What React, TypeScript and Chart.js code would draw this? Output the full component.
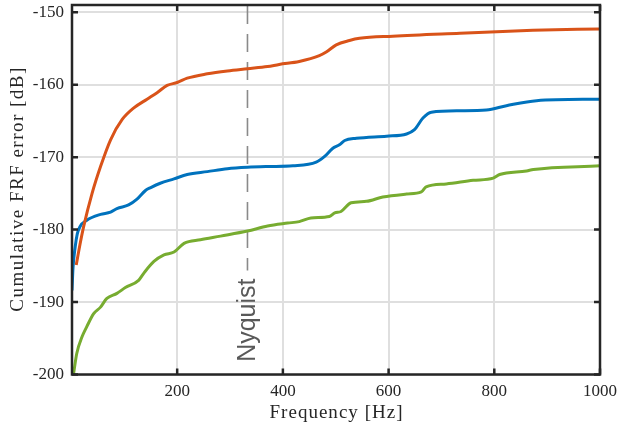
import React, { useEffect, useRef } from "react";
import { Chart, registerables } from "chart.js";

Chart.register(...registerables);

// ---- data ----
const blueFreq = [1, 3, 7, 11, 16, 29, 55, 74, 86, 108, 124, 140, 150, 168, 194, 219, 257, 295, 333, 371, 419, 463, 479, 494, 507, 517, 539, 596, 634, 649, 665, 681, 735, 785, 823, 880, 1000];
const blueErr = [-188.4, -185.2, -182.4, -180.6, -179.6, -178.7, -177.9, -177.6, -177.1, -176.6, -175.8, -174.6, -174.2, -173.6, -173.0, -172.4, -172.0, -171.6, -171.4, -171.3, -171.2, -170.7, -169.9, -168.8, -168.3, -167.7, -167.4, -167.1, -166.8, -166.2, -164.6, -163.8, -163.6, -163.5, -162.9, -162.2, -162.0];

const orangeFreq = [9, 16, 23, 39, 55, 74, 96, 118, 143, 162, 181, 200, 219, 257, 295, 333, 371, 393, 431, 469, 482, 501, 526, 545, 608, 735, 873, 1000];
const orangeErr = [-184.9, -182.1, -179.6, -175.0, -171.3, -167.6, -164.8, -163.2, -162.0, -161.1, -160.1, -159.7, -159.1, -158.5, -158.1, -157.8, -157.5, -157.2, -156.8, -156.0, -155.5, -154.5, -153.9, -153.6, -153.3, -152.9, -152.5, -152.3];

const greenFreq = [4, 10, 20, 29, 42, 55, 67, 86, 102, 127, 137, 156, 175, 194, 213, 244, 282, 333, 371, 409, 431, 453, 488, 498, 510, 529, 558, 589, 634, 662, 671, 709, 760, 798, 810, 861, 874, 1000];
const greenErr = [-199.9, -197.1, -194.8, -193.4, -191.6, -190.7, -189.5, -188.8, -188.0, -187.0, -186.0, -184.4, -183.5, -183.1, -181.9, -181.4, -180.9, -180.2, -179.5, -179.1, -178.9, -178.4, -178.2, -177.7, -177.5, -176.3, -176.1, -175.5, -175.1, -174.8, -174.1, -173.7, -173.2, -172.9, -172.4, -171.9, -171.7, -171.2];

const xTicks = [200, 400, 600, 800, 1000];
const yTicks = [-200, -190, -180, -170, -160, -150];
const nyquistHz = 333;
const nyquistLabel = "Nyquist";
const xTitle = "Frequency [Hz]";
const yTitle = "Cumulative FRF error [dB]";

// ---- styles ----
const AXIS_COLOR = "#262626";
const SERIF = "Liberation Serif";

function toPoints(xs: number[], ys: number[]) {
  return xs.map((x, i) => ({ x, y: ys[i] }));
}

function drawSpacedText(ctx: CanvasRenderingContext2D, text: string, cx: number, cy: number, target: number) {
  (ctx as any).letterSpacing = "0px";
  const w = ctx.measureText(text).width;
  const n = text.length;
  const sp = n > 1 ? Math.max(0, (target - w) / (n - 1)) : 0;
  (ctx as any).letterSpacing = sp + "px";
  ctx.textAlign = "left";
  ctx.fillText(text, cx - (w + (n - 1) * sp) / 2, cy);
  (ctx as any).letterSpacing = "0px";
}

const framePlugin = {
  id: "frame",
  beforeDatasetsDraw(chart: any) {
    const { ctx, chartArea, scales } = chart;
    const x = scales.x.getPixelForValue(nyquistHz);
    const yc = scales.y.getPixelForValue(-192.5);
    ctx.save();
    ctx.font = "25px 'Liberation Sans', Arial, sans-serif";
    const tw = ctx.measureText(nyquistLabel).width;
    ctx.strokeStyle = "#8a8a8a";
    ctx.lineWidth = 1.6;
    ctx.setLineDash([18, 10]);
    ctx.beginPath();
    ctx.moveTo(x, chartArea.top + 1);
    ctx.lineTo(x, yc - tw / 2 - 8);
    ctx.stroke();
    ctx.setLineDash([]);
    ctx.translate(x, yc);
    ctx.rotate(-Math.PI / 2);
    ctx.fillStyle = "#595959";
    ctx.textAlign = "center";
    ctx.textBaseline = "middle";
    ctx.fillText(nyquistLabel, 0, 1);
    ctx.restore();
  },
  afterDraw(chart: any) {
    const { ctx, chartArea, scales } = chart;
    const { left, right, top, bottom } = chartArea;
    ctx.save();
    ctx.strokeStyle = AXIS_COLOR;
    ctx.lineWidth = 2.5;
    ctx.strokeRect(left, top, right - left, bottom - top);
    const tl = 6;
    ctx.beginPath();
    xTicks.forEach((v) => {
      const px = scales.x.getPixelForValue(v);
      ctx.moveTo(px, bottom);
      ctx.lineTo(px, bottom - tl);
      ctx.moveTo(px, top);
      ctx.lineTo(px, top + tl);
    });
    yTicks.forEach((v) => {
      const py = scales.y.getPixelForValue(v);
      ctx.moveTo(left, py);
      ctx.lineTo(left + tl, py);
      ctx.moveTo(right, py);
      ctx.lineTo(right - tl, py);
    });
    ctx.stroke();

    // axis titles
    ctx.fillStyle = AXIS_COLOR;
    ctx.font = "19px '" + SERIF + "', serif";
    ctx.textBaseline = "alphabetic";
    drawSpacedText(ctx, xTitle, (left + right) / 2, 417.5, 133);
    ctx.translate(23, (top + bottom) / 2);
    ctx.rotate(-Math.PI / 2);
    drawSpacedText(ctx, yTitle, 0, 0, 244);
    ctx.restore();
  },
};

export default function App() {
  const ref = useRef<HTMLCanvasElement | null>(null);

  useEffect(() => {
    if (!ref.current) return;
    const tickFont = { family: SERIF, size: 17 };
    const chart = new Chart(ref.current, {
      type: "line",
      data: {
        datasets: [
          { data: toPoints(blueFreq, blueErr), borderColor: "#0072BD", borderWidth: 3, pointRadius: 0, cubicInterpolationMode: "monotone", order: 3 },
          { data: toPoints(orangeFreq, orangeErr), borderColor: "#D95319", borderWidth: 3, pointRadius: 0, cubicInterpolationMode: "monotone", order: 2 },
          { data: toPoints(greenFreq, greenErr), borderColor: "#77AC30", borderWidth: 3, pointRadius: 0, cubicInterpolationMode: "monotone", order: 1 },
        ] as any,
      },
      options: {
        responsive: false,
        animation: false,
        devicePixelRatio: 1,
        layout: { padding: { top: 5, right: 19, left: 0, bottom: 0 } },
        plugins: { legend: { display: false }, tooltip: { enabled: false } },
        scales: {
          x: {
            type: "linear",
            min: 1,
            max: 1000,
            afterBuildTicks: (s: any) => {
              s.ticks = xTicks.map((v) => ({ value: v }));
            },
            afterFit: (s: any) => {
              s.height = 53.5;
              s.paddingLeft = 0;
              s.paddingRight = 0;
            },
            grid: { color: "#dfdfdf", lineWidth: 2, drawTicks: false },
            border: { display: false },
            ticks: { padding: 7, font: tickFont, color: AXIS_COLOR, maxRotation: 0, autoSkip: false, callback: (v: any) => String(v) },
          },
          y: {
            type: "linear",
            min: -200,
            max: -149,
            afterBuildTicks: (s: any) => {
              s.ticks = yTicks.map((v) => ({ value: v }));
            },
            afterFit: (s: any) => {
              s.width = 72;
              s.paddingTop = 0;
              s.paddingBottom = 0;
            },
            grid: { color: "#dfdfdf", lineWidth: 2, drawTicks: false },
            border: { display: false },
            ticks: { padding: 8, font: tickFont, color: AXIS_COLOR, callback: (v: any) => String(v) },
          },
        },
      } as any,
      plugins: [framePlugin],
    });
    return () => chart.destroy();
  }, []);

  return (
    <div style={{ position: "absolute", left: 0, top: 0, width: 619, height: 428, background: "#fff" }}>
      <canvas ref={ref} width={619} height={428} style={{ width: 619, height: 428 }} />
    </div>
  );
}
